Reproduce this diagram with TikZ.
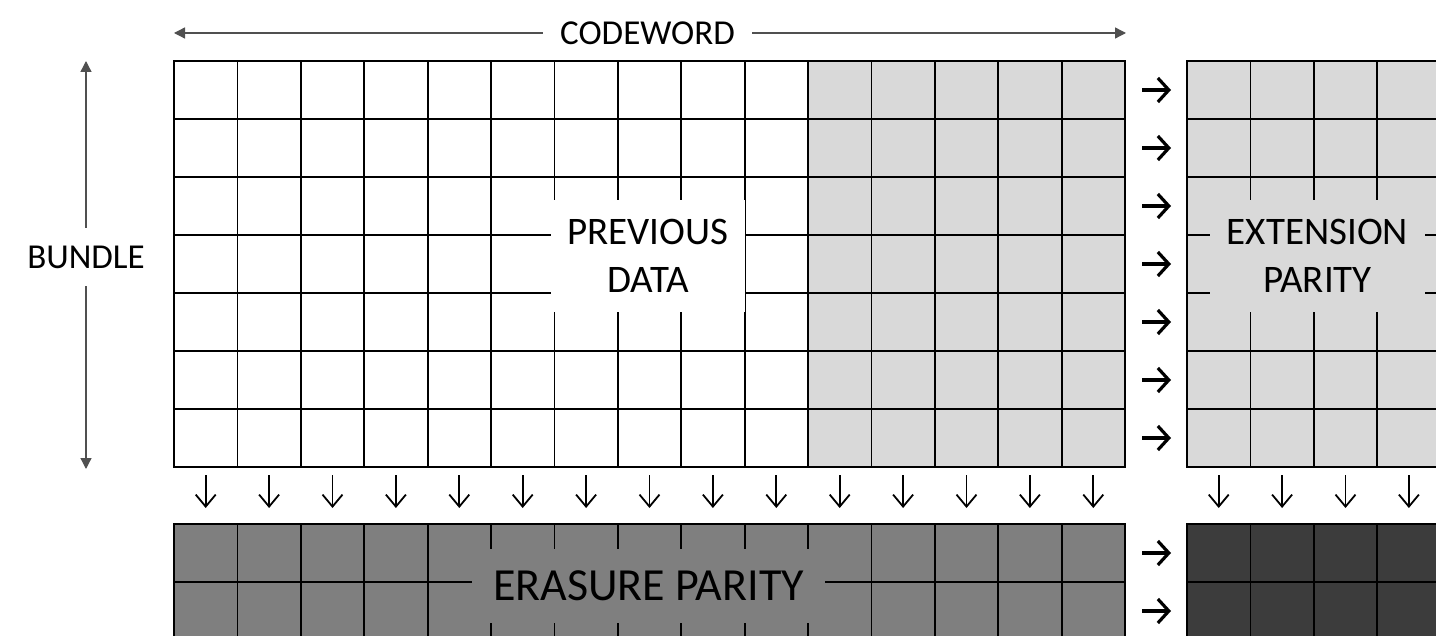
\documentclass[tikz,border=0pt]{standalone}
\usepackage{fontspec}
\setmainfont{Carlito}
\usetikzlibrary{arrows.meta}
\definecolor{lightcell}{HTML}{D9D9D9}
\definecolor{midcell}{HTML}{7F7F7F}
\definecolor{darkcell}{HTML}{3C3C3C}
\definecolor{dimline}{HTML}{505050}
\tikzset{
  cell/.style={draw=black, line width=1.8pt, minimum width=63.4pt, minimum height=58pt, inner sep=0pt, outer sep=0pt, anchor=north west},
  smalllabel/.style={font=\fontsize{35}{42}\selectfont, inner sep=0pt, fill=white},
  biglabel/.style={font=\fontsize{39}{48}\selectfont, align=center, inner sep=0pt},
  dimarrow/.style={draw=dimline, line width=1.3pt, -{Triangle[length=11pt,width=11pt]}},
  rightarrow/.style={line width=3.2pt, -{Straight Barb[length=11pt,width=24pt,line width=3.2pt]}},
  downarrow/.style={line width=1.8pt, -{Straight Barb[length=12pt,width=20pt,line width=1.8pt]}}
}
\begin{document}
\begin{tikzpicture}[x=1pt,y=-1pt]
\path[use as bounding box, clip] (0,0) rectangle (1436,636);
\fill[white] (0,0) rectangle (1436,636);
% top grid: previous data (white) and codeword parity (light grey)
\foreach \r in {1,...,7}{
  \foreach \c in {1,...,10}{
    \node[cell, fill=white] (t-\r-\c) at ({174+63.4*(\c-1)},{61+58*(\r-1)}) {};
  }
  \foreach \c in {11,...,15}{
    \node[cell, fill=lightcell] (t-\r-\c) at ({174+63.4*(\c-1)},{61+58*(\r-1)}) {};
  }
  \foreach \c in {1,...,4}{
    \node[cell, fill=lightcell] (x-\r-\c) at ({1187+63.4*(\c-1)},{61+58*(\r-1)}) {};
  }
}
% bottom grids
\foreach \r in {1,2}{
  \foreach \c in {1,...,15}{
    \node[cell, fill=midcell] (e-\r-\c) at ({174+63.4*(\c-1)},{524+58*(\r-1)}) {};
  }
  \foreach \c in {1,...,4}{
    \node[cell, fill=darkcell] (d-\r-\c) at ({1187+63.4*(\c-1)},{524+58*(\r-1)}) {};
  }
}
% labels over the grids
\node[biglabel, fill=white, minimum width=194pt, minimum height=112pt] (prev) at (648,256) {PREVIOUS\\DATA};
\node[biglabel, fill=lightcell, minimum width=215pt, minimum height=112pt] (ext) at (1317.5,256) {EXTENSION\\PARITY};
\node[font=\fontsize{46}{55}\selectfont, inner sep=0pt, fill=midcell, minimum width=353pt, minimum height=74pt] (eras) at (648.5,586) {ERASURE PARITY};
% right arrows
\foreach \r in {1,...,7}{
  \draw[rightarrow] ([xshift=17pt]t-\r-15.east) -- ([xshift=-16pt]x-\r-1.west);
}
\foreach \r in {1,2}{
  \draw[rightarrow] ([xshift=17pt]e-\r-15.east) -- ([xshift=-16pt]d-\r-1.west);
}
% down arrows
\foreach \c in {1,...,15}{
  \draw[downarrow] ([yshift=-8pt]t-7-\c.south) -- ([yshift=16pt]e-1-\c.north);
}
\foreach \c in {1,...,4}{
  \draw[downarrow] ([yshift=-8pt]x-7-\c.south) -- ([yshift=16pt]d-1-\c.north);
}
% dimension arrows
\node[smalllabel, minimum width=209pt, minimum height=30pt] (cw) at (647.5,33) {CODEWORD};
\coordinate (cwl) at (174,33);
\coordinate (cwr) at (1126,33);
\draw[dimarrow] (cw.west) -- (cwl);
\draw[dimarrow] (cw.east) -- (cwr);
\node[smalllabel, minimum width=130pt, minimum height=58pt] (bundle) at (86,257) {BUNDLE};
\coordinate (bt) at (86,61);
\coordinate (bb) at (86,469);
\draw[dimarrow] (bundle.north) -- (bt);
\draw[dimarrow] (bundle.south) -- (bb);
\end{tikzpicture}
\end{document}
